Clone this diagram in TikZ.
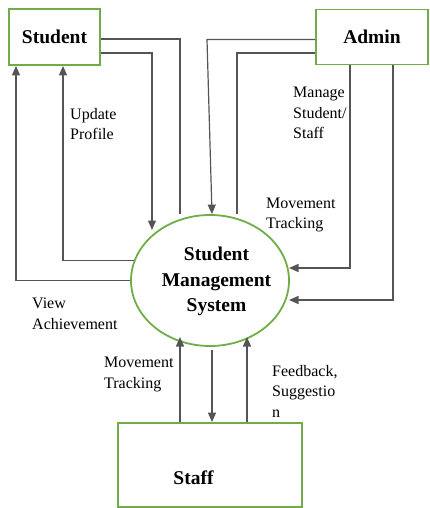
\documentclass[tikz,border=0pt]{standalone}
\usepackage{fontspec}
\setmainfont{Liberation Serif}
\usetikzlibrary{arrows.meta,shapes.geometric}
\definecolor{boxgreen}{RGB}{112,173,71}
\definecolor{flowgray}{RGB}{85,85,85}

\begin{document}
\begin{tikzpicture}[
    x = 1pt, y = -1pt,
    > = {Triangle[length=9.5pt, width=8pt]},
    flow/.style = {draw = flowgray, line width = 1.2pt},
    entity/.style = {draw = boxgreen, line width = 1.8pt, rectangle,
      font = \fontsize{19.5}{24}\selectfont\bfseries},
    process/.style = {draw = boxgreen, line width = 1.8pt, ellipse,
      inner sep = 0pt},
    % multi-line labels sit on the baseline of their last line
    flowtxt/.style = {anchor = base west, align = left, inner sep = 0pt,
      font = \fontsize{16}{20.5}\selectfont},
    ]

    \useasboundingbox (0,0) rectangle (429,508);

    % external entities and the central process
    \node[entity, minimum width = 91, minimum height = 56] (student) at (54.5,37) {Student};
    \node[entity, minimum width = 112, minimum height = 55] (admin) at (372,37) {Admin};
    \node[entity, minimum width = 184, minimum height = 84] (staff) at (210,465) {};
    \node[anchor = base, inner sep = 0pt, font = \fontsize{19.5}{24}\selectfont\bfseries]
      (staffname) at (193.5,484) {Staff};
    \node[process, minimum width = 158, minimum height = 131] (sms) at (210,280.5) {};
    \node[anchor = base, align = center, inner sep = 0pt,
      font = \fontsize{19.5}{25.5}\selectfont\bfseries]
      (smsname) at (216.5,311.5) {Student\\Management\\System};

    % free ends of the flows
    \coordinate (a1) at (180,214);
    \coordinate (a2) at (152,230);
    \coordinate (b1) at (207,39.5);
    \coordinate (b2) at (237,214);
    \coordinate (c1) at (289,268);
    \coordinate (c2) at (289,300);
    \coordinate (e1) at (180,337);
    \coordinate (e2) at (212,350);
    \coordinate (e3) at (247,337);

    % student <-> system
    \draw[flow] ([yshift=-2pt]student.east) -| (a1);
    \draw[flow, ->] ([yshift=-16pt]student.east) -| (a2);
    \draw[flow, ->] (sms.west) -| ([xshift=-38.5pt]student.south);
    \draw[flow, ->] (sms.165) -| ([xshift=8.5pt]student.south);

    % admin <-> system
    \draw[flow, ->] (admin.west |- b1) -- (b1) -- ([xshift=2pt]sms.north);
    \draw[flow] ([yshift=-16pt]admin.west) -| (b2);
    \draw[flow, ->] ([xshift=-22pt]admin.south) |- (c1);
    \draw[flow, ->] ([xshift=21pt]admin.south) |- (c2);

    % staff <-> system
    \draw[flow, ->] (staff.north -| e1) -- (e1);
    \draw[flow, ->] (e2) -- (staff.north -| e2);
    \draw[flow, ->] (staff.north -| e3) -- (e3);

    % flow labels
    \node[flowtxt] (lupdate) at (70,139.5) {Update\\Profile};
    \node[flowtxt] (lmanage) at (293,139) {Manage\\Student/\\Staff};
    \node[flowtxt] (lmoveadm) at (266,228.5) {Movement\\Tracking};
    \node[flowtxt] (lview) at (32,329) {View\\Achievement};
    \node[flowtxt] (lmovestf) at (104,388) {Movement\\Tracking};
    \node[flowtxt] (lfeed) at (272,417) {Feedback,\\Suggestio\\n};

\end{tikzpicture}
\end{document}
